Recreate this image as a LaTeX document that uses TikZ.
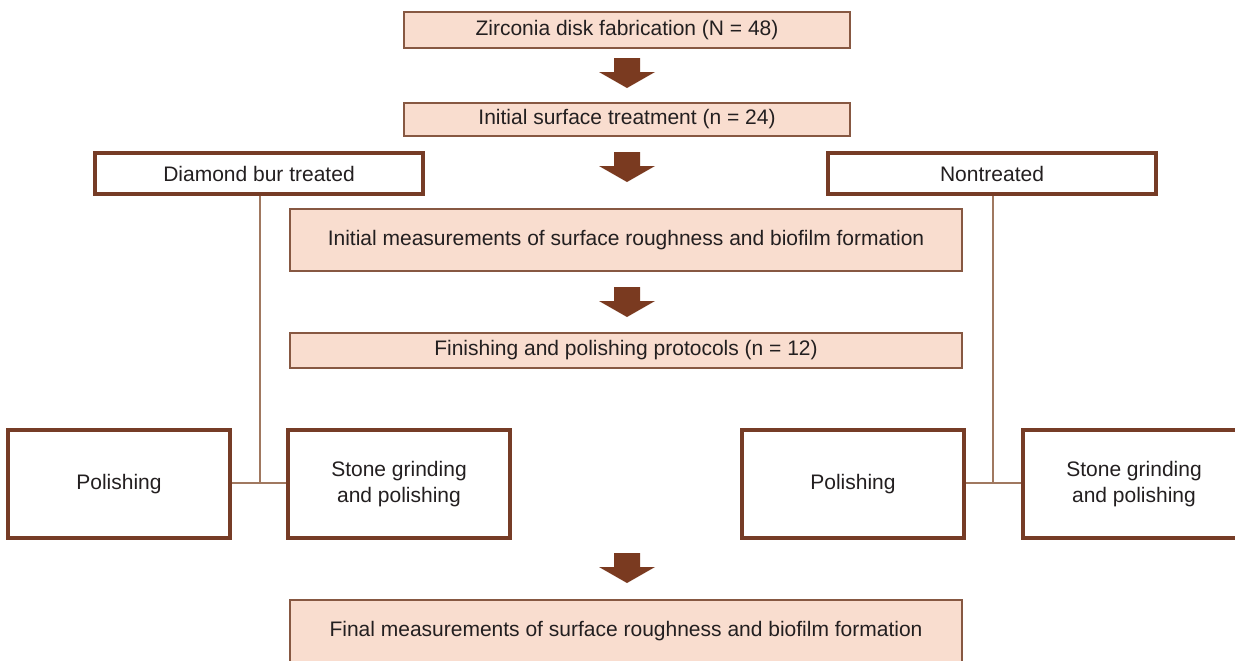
\documentclass[tikz,border=0pt]{standalone}
\usepackage{fontspec}
\setmainfont{Liberation Sans}
\definecolor{pinkfill}{RGB}{249,221,207}
\definecolor{thinbrown}{RGB}{135,88,66}
\definecolor{thickbrown}{RGB}{118,60,38}
\definecolor{linebrown}{RGB}{160,120,96}
\definecolor{arrowbrown}{RGB}{122,58,32}
\definecolor{txt}{RGB}{35,31,32}
\begin{document}
\begin{tikzpicture}[x=0.5pt,y=-0.5pt,
  every node/.style={font=\fontsize{10.5}{12.6}\selectfont, text=txt, inner sep=0pt, align=center},
  pinkbox/.style={draw=thinbrown, line width=1pt, fill=pinkfill, rectangle},
  whitebox/.style={draw=thickbrown, line width=2pt, fill=white, rectangle, minimum width=111pt, minimum height=54pt},
  groupbox/.style={draw=thickbrown, line width=2pt, fill=white, rectangle, minimum width=164pt, minimum height=20.5pt},
  conn/.style={draw=linebrown, line width=0.8pt},
  fatarrow/.style={fill=arrowbrown}
]
\useasboundingbox (0,0) rectangle (1235,660);
\begin{scope}
\clip (0,0) rectangle (1235,660);

% pink process boxes
\node[pinkbox, minimum width=223pt, minimum height=18pt] (fab) at (627,30) {Zirconia disk fabrication (N = 48)};
\node[pinkbox, minimum width=223pt, minimum height=16.5pt] (init) at (627,119.5) {Initial surface treatment (n = 24)};
\node[pinkbox, minimum width=336pt, minimum height=31pt] (meas1) at (626,240) {Initial measurements of surface roughness and biofilm formation};
\node[pinkbox, minimum width=336pt, minimum height=17.5pt] (prot) at (626,350.5) {Finishing and polishing protocols (n = 12)};
\node[pinkbox, minimum width=336pt, minimum height=31pt] (meas2) at (626,631) {Final measurements of surface roughness and biofilm formation};

% group boxes
\node[groupbox] (dia) at (259,173.5) {Diamond bur treated};
\node[groupbox] (non) at (992,173.5) {Nontreated};

% subgroup boxes
\node[whitebox] (polL) at (119,484) {Polishing};
\node[whitebox] (stoL) at (399,484) {Stone grinding\\and polishing};
\node[whitebox] (polR) at (853,484) {Polishing};
\node[whitebox] (stoR) at (1134,484) {Stone grinding\\and polishing};

% connectors
\coordinate (jL) at (260,483);
\coordinate (jR) at (993,483);
\draw[conn] (dia.south -| jL) -- (jL);
\draw[conn] (polL.east |- jL) -- (stoL.west |- jL);
\draw[conn] (non.south -| jR) -- (jR);
\draw[conn] (polR.east |- jR) -- (stoR.west |- jR);

% fat arrows
\foreach \y in {58,152,287,553}{
  \fill[fatarrow] (614,\y) -- (640,\y) -- (640,\y+14) -- (655,\y+14) -- (627,\y+30) -- (599,\y+14) -- (614,\y+14) -- cycle;
}
\end{scope}
\end{tikzpicture}
\end{document}
